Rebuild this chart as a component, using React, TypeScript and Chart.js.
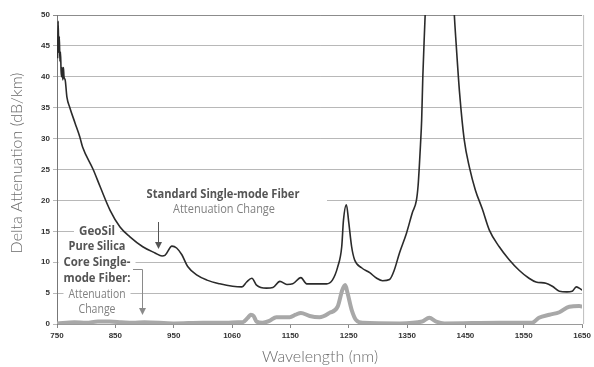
import React, { useEffect, useRef } from "react";
import { Chart, registerables } from "chart.js";

Chart.register(...registerables);

// Standard single-mode fiber (black curve)
const stdWavelength = [751, 752, 753, 754, 755, 756, 757, 758, 759, 760, 761, 762, 764, 767, 772, 781, 789, 794, 812, 824, 841, 858, 875, 897, 918, 930, 935, 947, 955, 964, 974, 990, 1007, 1029, 1051, 1067, 1075, 1084, 1092, 1109, 1120, 1132, 1144, 1154, 1168, 1178, 1188, 1200, 1212, 1222, 1231, 1238, 1241, 1246, 1250, 1255, 1260, 1272, 1286, 1298, 1308, 1320, 1328, 1337, 1349, 1359, 1366, 1369, 1371, 1373, 1375, 1377, 1380, 1381, 1385, 1392, 1405, 1419, 1426, 1431, 1434, 1440, 1448, 1457, 1467, 1479, 1491, 1508, 1525, 1542, 1559, 1571, 1588, 1599, 1611, 1624, 1633, 1640, 1645, 1650];
const stdAttenuation = [43, 49, 44, 46.5, 42.5, 44, 41, 40, 41.5, 39.5, 41.5, 40, 39.5, 36.7, 35, 32.5, 30.3, 28.6, 25, 22.2, 18.4, 15.7, 14.1, 12.5, 11.5, 11, 11.1, 12.6, 12.3, 11.2, 9.3, 7.9, 7.1, 6.5, 6.1, 6.0, 6.8, 7.4, 6.3, 5.8, 5.9, 6.9, 6.4, 6.5, 7.5, 6.5, 6.5, 6.5, 6.5, 7.1, 9.2, 12.5, 16.8, 19.3, 16.5, 12.5, 10.4, 9.1, 8.3, 7.4, 7.0, 7.2, 8.7, 11.5, 14.7, 18, 20, 22.5, 25.5, 29, 33, 40, 47.6, 50, 60, 72, 80, 72, 60, 50, 45.5, 37.4, 29.8, 25.3, 21.7, 18.6, 15.2, 12.5, 10.4, 8.7, 7.4, 6.8, 6.6, 6.1, 5.3, 5.2, 5.3, 6.0, 5.8, 5.5];

// GeoSil pure silica core fiber (gray curve)
const geoWavelength = [750, 780, 800, 820, 840, 860, 880, 900, 950, 1000, 1040, 1060, 1068, 1077, 1082, 1087, 1092, 1102, 1114, 1126, 1149, 1159, 1168, 1183, 1200, 1217, 1231, 1239, 1244, 1248, 1255, 1263, 1274, 1337, 1376, 1388, 1400, 1414, 1508, 1564, 1576, 1594, 1611, 1628, 1645, 1650];
const geoAttenuation = [0.1, 0.3, 0.2, 0.4, 0.4, 0.3, 0.2, 0.3, 0.1, 0.2, 0.2, 0.3, 0.3, 1.0, 1.5, 1.3, 0.4, 0.2, 0.5, 1.1, 1.1, 1.5, 1.8, 1.3, 1.1, 1.8, 2.8, 5.5, 6.3, 5.0, 2.3, 0.6, 0.2, 0.1, 0.4, 1.0, 0.4, 0.1, 0.2, 0.2, 1.0, 1.5, 1.9, 2.8, 2.9, 2.8];

const xTickLabels = ["750", "850", "950", "1060", "1150", "1250", "1350", "1450", "1550", "1650"];
const yMin = 0;
const yMax = 50;
const yStep = 5;

function fitText(ctx: CanvasRenderingContext2D, text: string, cx: number, cy: number, w: number, font: string, color: string) {
  ctx.save();
  ctx.font = font;
  const m = ctx.measureText(text).width;
  let s = w / m;
  s = Math.max(0.7, Math.min(1.25, s));
  ctx.translate(cx, cy);
  ctx.scale(s, 1);
  ctx.fillStyle = color;
  ctx.textAlign = "center";
  ctx.textBaseline = "middle";
  ctx.fillText(text, 0, 0);
  ctx.restore();
}

const BOLD = 'bold 13px "Open Sans"';
const NORMAL = '13px "Open Sans"';
const DARK = "#555555";
const LIGHT = "#808080";

const geoLines: [string, number, number, boolean][] = [
  ["GeoSil", 231, 36, true],
  ["Pure Silica", 246, 57, true],
  ["Core Single-", 262, 67, true],
  ["mode Fiber:", 278, 67, true],
  ["Attenuation", 294, 57, false],
  ["Change", 309, 37, false],
];

const annotPlugin = {
  id: "annot",
  beforeDatasetsDraw(chart: any) {
    const ctx = chart.ctx as CanvasRenderingContext2D;
    ctx.save();
    ctx.fillStyle = "#ffffff";
    ctx.fillRect(120, 187, 207, 29);
    for (const [, cy, w] of geoLines) {
      ctx.fillRect(97 - w / 2 - 5, cy - 7, w + 10, 14);
    }
    ctx.restore();
  },
  afterDatasetsDraw(chart: any) {
    const ctx = chart.ctx as CanvasRenderingContext2D;
    fitText(ctx, "Standard Single-mode Fiber", 223, 194, 153, BOLD, DARK);
    fitText(ctx, "Attenuation Change", 224, 209, 102, NORMAL, LIGHT);
    for (const [t, cy, w, b] of geoLines) {
      fitText(ctx, t, 97, cy, w, b ? BOLD : NORMAL, b ? DARK : LIGHT);
    }
    ctx.save();
    ctx.strokeStyle = DARK;
    ctx.fillStyle = DARK;
    ctx.lineWidth = 1;
    ctx.beginPath();
    ctx.moveTo(158.5, 222);
    ctx.lineTo(158.5, 243);
    ctx.stroke();
    ctx.beginPath();
    ctx.moveTo(155, 242);
    ctx.lineTo(162, 242);
    ctx.lineTo(158.5, 249);
    ctx.closePath();
    ctx.fill();
    ctx.strokeStyle = "#8a8a8a";
    ctx.fillStyle = "#8a8a8a";
    ctx.beginPath();
    ctx.moveTo(133, 269.5);
    ctx.lineTo(142.5, 269.5);
    ctx.lineTo(142.5, 309);
    ctx.stroke();
    ctx.beginPath();
    ctx.moveTo(139, 308);
    ctx.lineTo(146, 308);
    ctx.lineTo(142.5, 315);
    ctx.closePath();
    ctx.fill();
    ctx.restore();
  },
  afterDraw(chart: any) {
    const ctx = chart.ctx as CanvasRenderingContext2D;
    const a = chart.chartArea;
    ctx.save();
    ctx.strokeStyle = "#bdbdbd";
    ctx.lineWidth = 1;
    ctx.beginPath();
    ctx.moveTo(a.right + 1.5, a.top);
    ctx.lineTo(a.right + 1.5, a.bottom);
    ctx.stroke();
    ctx.fillStyle = "#6a6a6a";
    ctx.font = '300 16px "Lato"';
    ctx.textAlign = "center";
    ctx.textBaseline = "middle";
    ctx.fillText("Wavelength (nm)", 320, 357);
    ctx.translate(17, 163);
    ctx.rotate(-Math.PI / 2);
    ctx.fillText("Delta Attenuation (dB/km)", 0, 0);
    ctx.restore();
  },
};

export default function App() {
  const ref = useRef<HTMLCanvasElement | null>(null);
  useEffect(() => {
    document.body.style.margin = "0";
    const ctx = ref.current!.getContext("2d")!;
    const chart = new Chart(ctx, {
      type: "line",
      data: {
        datasets: [
          {
            label: "GeoSil Pure Silica Core Single-mode Fiber",
            data: geoWavelength.map((x, i) => ({ x, y: geoAttenuation[i] })),
            borderColor: "#a8a8a8",
            borderWidth: 4,
            pointRadius: 0,
            cubicInterpolationMode: "monotone",
            fill: false,
          },
          {
            label: "Standard Single-mode Fiber",
            data: stdWavelength.map((x, i) => ({ x, y: stdAttenuation[i] })),
            borderColor: "#2b2b2b",
            borderWidth: 1.6,
            pointRadius: 0,
            cubicInterpolationMode: "monotone",
            fill: false,
          },
        ],
      },
      options: {
        animation: false,
        responsive: true,
        maintainAspectRatio: false,
        layout: { padding: { top: 15, right: 11, left: 0, bottom: 0 } },
        plugins: { legend: { display: false }, tooltip: { enabled: false }, title: { display: false } },
        scales: {
          x: {
            type: "linear",
            min: 750,
            max: 1650,
            afterFit: (s: any) => { s.height = 43; },
            afterBuildTicks: (s: any) => {
              s.ticks = xTickLabels.map((_, i) => ({ value: 750 + i * 100 }));
            },
            ticks: {
              callback: (_v: any, i: number) => xTickLabels[i],
              font: { family: "Liberation Sans", size: 8, weight: "bold" },
              color: "#333333",
              padding: 3,
              maxRotation: 0,
              autoSkip: false,
            },
            grid: { drawOnChartArea: false, drawTicks: true, tickLength: 4, color: "#888888" },
            border: { color: "#9a9a9a", width: 1 },
          },
          y: {
            min: yMin,
            max: yMax,
            afterFit: (s: any) => { s.width = 57; },
            ticks: {
              stepSize: yStep,
              font: { family: "Liberation Sans", size: 8, weight: "bold" },
              color: "#333333",
              padding: 3,
            },
            grid: {
              color: (c: any) => (c.tick && c.tick.value === yMax ? "#8c8c8c" : "#b8b8b8"),
              tickLength: 4,
              lineWidth: 1,
            },
            border: { color: "#777777", width: 1 },
          },
        },
      },
      plugins: [annotPlugin],
    });
    return () => chart.destroy();
  }, []);
  return (
    <div style={{ width: 594, height: 367, position: "relative" }}>
      <canvas ref={ref} />
    </div>
  );
}
